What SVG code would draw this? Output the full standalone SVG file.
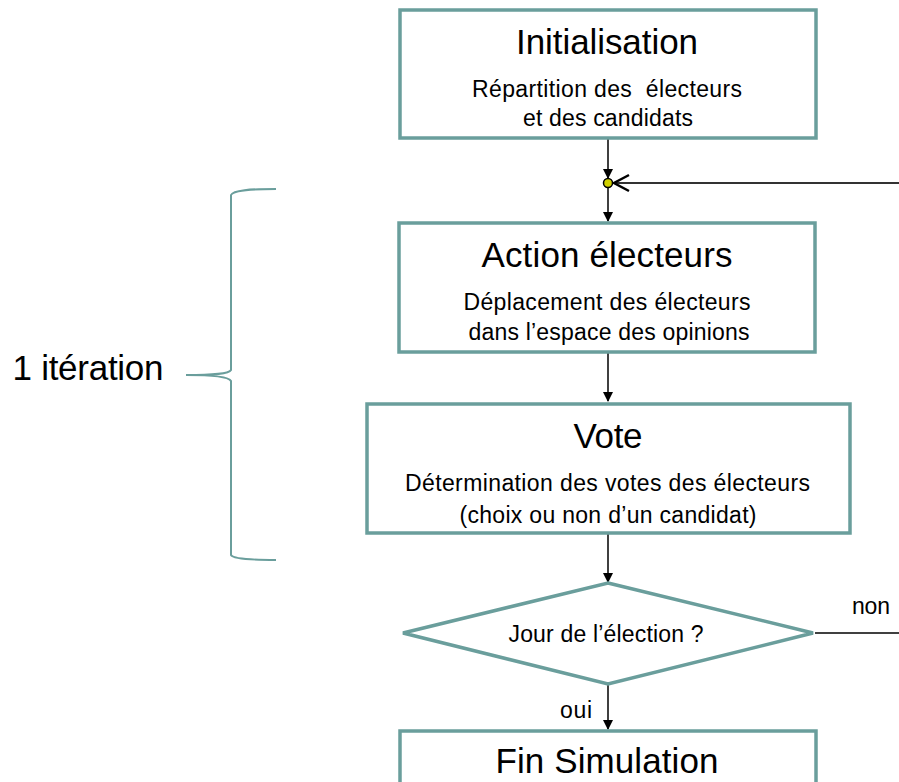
<svg xmlns="http://www.w3.org/2000/svg" width="899" height="782" viewBox="0 0 899 782">
<style>
.box{fill:#fff;stroke:#6a9e9c;stroke-width:3.5}
.t{font-family:"Liberation Sans",Arial,sans-serif;fill:#000;text-anchor:middle}
.big{font-size:35px}
.sm{font-size:23px}
.lbl{font-size:23px}
.ln{stroke:#000;stroke-width:1.5;fill:none}
.brace{stroke:#6a9e9c;stroke-width:2;fill:none}
</style>
<defs>
<marker id="ah" markerWidth="10" markerHeight="10" refX="9" refY="5" orient="auto" markerUnits="userSpaceOnUse">
<path d="M0,0 L10,5 L0,10 z" fill="#000"/>
</marker>
<marker id="oh" markerWidth="20" markerHeight="20" refX="17" refY="10" orient="auto" markerUnits="userSpaceOnUse">
<path d="M2,2 L17,10 L2,18" fill="none" stroke="#000" stroke-width="2.5"/>
</marker>
</defs>
<g id="connectors">
<line class="ln" x1="608" y1="139" x2="608" y2="178" marker-end="url(#ah)"/>
<line class="ln" x1="608" y1="188" x2="608" y2="221" marker-end="url(#ah)"/>
<line class="ln" x1="608" y1="353" x2="608" y2="401" marker-end="url(#ah)"/>
<line class="ln" x1="608" y1="534" x2="608" y2="582" marker-end="url(#ah)"/>
<line class="ln" x1="608" y1="685" x2="608" y2="729" marker-end="url(#ah)"/>
<line class="ln" x1="815" y1="633" x2="899" y2="633"/>
<line x1="899" y1="183" x2="614" y2="183" stroke="#333" stroke-width="2" marker-end="url(#oh)"/>
<circle cx="608" cy="183" r="4.5" fill="#d0d000" stroke="#000" stroke-width="1.5"/>
<text class="t lbl" x="871" y="614" textLength="38">non</text>
<text class="t lbl" x="576" y="718" textLength="32">oui</text>
</g>
<g id="init">
<rect class="box" x="400" y="10" width="416" height="128"/>
<text class="t big" x="607" y="54" textLength="182">Initialisation</text>
<text class="t sm" x="607" y="97" textLength="270" xml:space="preserve">Répartition des  électeurs</text>
<text class="t sm" x="608" y="126" textLength="170">et des candidats</text>
</g>
<g id="action">
<rect class="box" x="399" y="223" width="416" height="129"/>
<text class="t big" x="607" y="267" textLength="251">Action électeurs</text>
<text class="t sm" x="607" y="310" textLength="287">Déplacement des électeurs</text>
<text class="t sm" x="609" y="340" textLength="281">dans l’espace des opinions</text>
</g>
<g id="vote">
<rect class="box" x="367" y="404" width="483" height="129"/>
<text class="t big" x="608" y="448" textLength="69">Vote</text>
<text class="t sm" x="607.5" y="491" textLength="405">Détermination des votes des électeurs</text>
<text class="t sm" x="608" y="523" textLength="297">(choix ou non d’un candidat)</text>
</g>
<g id="decision">
<polygon class="box" points="608,583 813,633 608,684 403,633"/>
<text class="t lbl" x="606" y="642" textLength="195">Jour de l’élection ?</text>
</g>
<g id="fin">
<rect class="box" x="400" y="731" width="416" height="80"/>
<text class="t big" x="607" y="773" textLength="223">Fin Simulation</text>
</g>
<g id="iteration">
<path class="brace" d="M276,189 C250,189 233,190 231,195 L231,370 C229,374 215,375 186,375 C215,375 229,377 231,381 L231,555 C233,559 250,560 276,560"/>
<text class="t big" x="88" y="380" textLength="151">1 itération</text>
</g>
</svg>
